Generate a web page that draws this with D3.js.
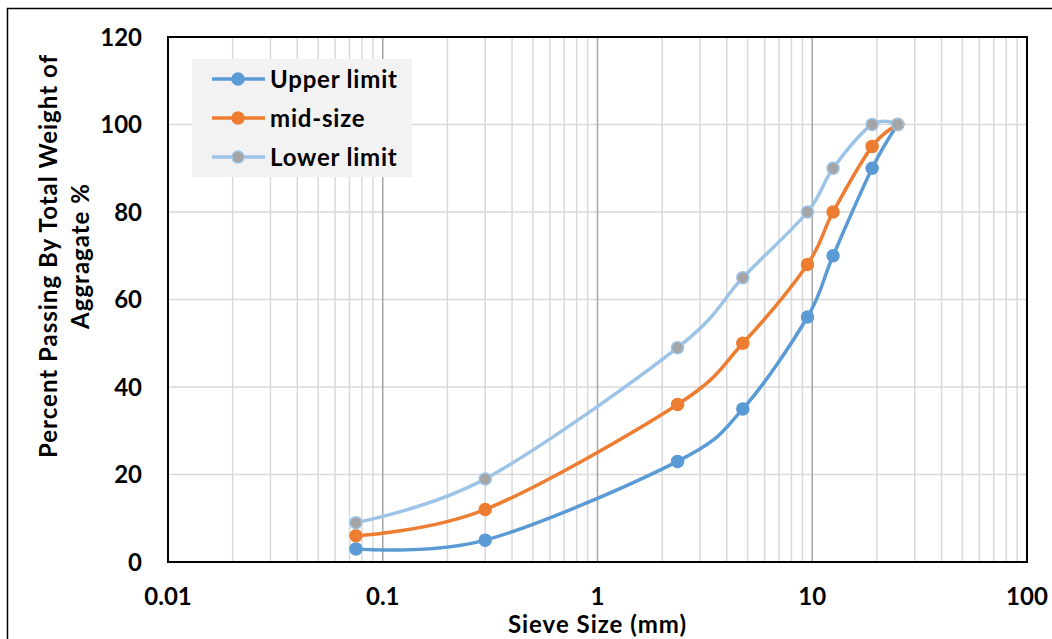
<!DOCTYPE html>
<html lang="en">
<head>
    <meta charset="UTF-8">
    <title>Sieve analysis</title>
    <script src="https://d3js.org/d3.v7.min.js"></script>
    <style>
        body { margin: 0; background: #fff; }
        svg text { font-family: Lato, "Open Sans", sans-serif; font-weight: bold; fill: #000; }
    </style>
</head>
<body>
    <div id="chart"></div>
    <script>
        // sieve sizes in mm
        const sieves = [0.075, 0.3, 2.36, 4.75, 9.5, 12.5, 19, 25];
        const upperLimit = [3, 5, 23, 35, 56, 70, 90, 100];
        const midSize = [6, 12, 36, 50, 68, 80, 95, 100];
        const lowerLimit = [9, 19, 49, 65, 80, 90, 100, 100];
        const seriesNames = ['Upper limit', 'mid-size', 'Lower limit'];
        const xTicks = [0.01, 0.1, 1, 10, 100];
        const yTicks = [0, 20, 40, 60, 80, 100, 120];

        const width = 1052, height = 639;
        const plot = { left: 168, right: 1027, top: 37, bottom: 562 };

        const svg = d3.select('#chart').append('svg')
            .attr('width', width)
            .attr('height', height);

        // outer chart border
        svg.append('rect')
            .attr('x', 7.5).attr('y', 8.5)
            .attr('width', 1060).attr('height', 700)
            .attr('fill', 'none').attr('stroke', '#000').attr('stroke-width', 1.5);

        const x = d3.scaleLog().domain([0.01, 100]).range([plot.left, plot.right]);
        const y = d3.scaleLinear().domain([0, 120]).range([plot.bottom, plot.top]);

        // minor vertical grid
        const minor = [];
        for (let d = 0.01; d < 100; d *= 10) {
            for (let k = 2; k <= 9; k++) minor.push(+(d * k).toPrecision(3));
        }
        svg.append('g').selectAll('line').data(minor).join('line')
            .attr('x1', d => x(d)).attr('x2', d => x(d))
            .attr('y1', plot.top).attr('y2', plot.bottom)
            .attr('stroke', '#d9d9d9').attr('stroke-width', 1.5);

        // horizontal grid
        svg.append('g').selectAll('line').data(yTicks.slice(1)).join('line')
            .attr('x1', plot.left).attr('x2', plot.right)
            .attr('y1', d => y(d)).attr('y2', d => y(d))
            .attr('stroke', '#d9d9d9').attr('stroke-width', 1.5);

        // major vertical grid
        svg.append('g').selectAll('line').data(xTicks.slice(1, -1)).join('line')
            .attr('x1', d => x(d)).attr('x2', d => x(d))
            .attr('y1', plot.top).attr('y2', plot.bottom)
            .attr('stroke', '#a6a6a6').attr('stroke-width', 1.5);

        // plot area frame
        svg.append('rect')
            .attr('x', plot.left).attr('y', plot.top)
            .attr('width', plot.right - plot.left).attr('height', plot.bottom - plot.top)
            .attr('fill', 'none').attr('stroke', '#000').attr('stroke-width', 2);

        // tick labels
        svg.append('g').selectAll('text').data(yTicks).join('text')
            .attr('x', 142).attr('y', d => y(d) + 8.5)
            .attr('text-anchor', 'end')
            .style('font-size', '24px')
            .text(d => d);

        svg.append('g').selectAll('text').data(xTicks).join('text')
            .attr('x', d => x(d)).attr('y', 605)
            .attr('text-anchor', 'middle')
            .style('font-size', '24px')
            .text(d => d);

        // axis titles
        svg.append('text')
            .attr('x', x(1)).attr('y', 633)
            .attr('text-anchor', 'middle')
            .style('font-size', '24px')
            .style('letter-spacing', '1px')
            .text('Sieve Size (mm)');

        const yTitle = svg.append('text')
            .attr('transform', 'translate(57,256) rotate(-90)')
            .attr('text-anchor', 'middle')
            .style('font-size', '24px')
            .style('letter-spacing', '1px');
        yTitle.append('tspan').attr('x', 0).attr('dy', 0).text('Percent Passing By Total Weight of');
        yTitle.append('tspan').attr('x', 0).attr('dy', 32).text('Aggragate %');

        // series
        const series = [
            { name: seriesNames[0], values: upperLimit, color: '#5b9bd5', fill: '#5b9bd5', stroke: '#5b9bd5' },
            { name: seriesNames[1], values: midSize, color: '#ed7d31', fill: '#ed7d31', stroke: '#ed7d31' },
            { name: seriesNames[2], values: lowerLimit, color: '#9dc3e6', fill: '#a5a5a5', stroke: '#9dc3e6' }
        ];

        const line = d3.line()
            .x(d => x(d[0]))
            .y(d => y(d[1]))
            .curve(d3.curveCatmullRom.alpha(0));

        series.forEach(s => {
            const pts = sieves.map((v, i) => [v, s.values[i]]);
            svg.append('path')
                .datum(pts)
                .attr('d', line)
                .attr('fill', 'none')
                .attr('stroke', s.color)
                .attr('stroke-width', 3.5);
        });

        series.forEach(s => {
            const pts = sieves.map((v, i) => [v, s.values[i]]);
            svg.append('g').selectAll('circle').data(pts).join('circle')
                .attr('cx', d => x(d[0])).attr('cy', d => y(d[1]))
                .attr('r', 6)
                .attr('fill', s.fill)
                .attr('stroke', s.stroke)
                .attr('stroke-width', 1.5);
        });

        // legend
        const legend = svg.append('g');
        legend.append('rect')
            .attr('x', 192).attr('y', 59)
            .attr('width', 220).attr('height', 118)
            .attr('fill', '#f2f2f2');

        series.forEach((s, i) => {
            const ly = 79 + i * 39;
            legend.append('line')
                .attr('x1', 212).attr('x2', 265)
                .attr('y1', ly).attr('y2', ly)
                .attr('stroke', s.color).attr('stroke-width', 3.5);
            legend.append('circle')
                .attr('cx', 238).attr('cy', ly).attr('r', 6)
                .attr('fill', s.fill).attr('stroke', s.stroke).attr('stroke-width', 1.5);
            legend.append('text')
                .attr('x', 270).attr('y', ly + 8.5)
                .style('font-size', '24px')
                .style('letter-spacing', '0.8px')
                .text(s.name);
        });
    </script>
</body>
</html>
